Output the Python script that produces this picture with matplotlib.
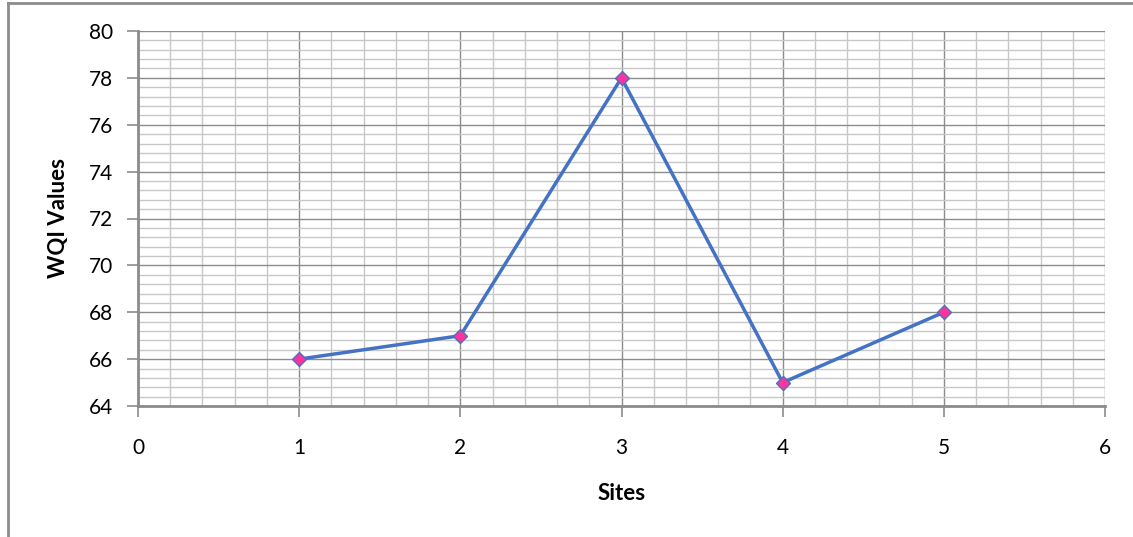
import numpy as np
import matplotlib
matplotlib.use("Agg")
import matplotlib.pyplot as plt
from matplotlib.lines import Line2D
from matplotlib.ticker import MultipleLocator

plt.rcParams['font.family'] = ['Lato', 'DejaVu Sans']

sites = [1, 2, 3, 4, 5]
wqi_values = [66, 67, 78, 65, 68]
x_ticks = [0, 1, 2, 3, 4, 5, 6]
y_ticks = [64, 66, 68, 70, 72, 74, 76, 78, 80]

W, H = 1133, 537
fig = plt.figure(figsize=(W / 100, H / 100), dpi=100)
ax = fig.add_axes([138 / W, 1 - 406 / H, (1105 - 138) / W, (406 - 31) / H])

ax.set_xlim(0, 6)
ax.set_ylim(64, 80)
ax.set_xticks(x_ticks)
ax.set_yticks(y_ticks)
ax.xaxis.set_minor_locator(MultipleLocator(0.2))
ax.yaxis.set_minor_locator(MultipleLocator(0.4))

ax.grid(which='minor', color='#c8c8c8', linewidth=1.0)
ax.grid(which='major', color='#8c8c8c', linewidth=1.0)
ax.set_axisbelow(True)

ax.tick_params(which='minor', length=0)
ax.tick_params(which='major', direction='out', length=8, width=1.2,
               color='#8c8c8c', labelsize=15, labelcolor='black')
ax.tick_params(axis='y', pad=10)
ax.tick_params(axis='x', pad=15)

for side in ['top', 'right']:
    ax.spines[side].set_visible(False)
for side in ['left', 'bottom']:
    ax.spines[side].set_color('#8c8c8c')
    ax.spines[side].set_linewidth(2.0)

ax.plot(sites, wqi_values, color='#4472C4', linewidth=2.5,
        marker='D', markersize=7, markerfacecolor='#FF3399',
        markeredgecolor='#4472C4', markeredgewidth=1.0, zorder=5)

ax.set_xlabel('Sites', fontsize=16, fontweight='bold', labelpad=18)
ax.set_ylabel('WQI Values', fontsize=16, fontweight='bold', labelpad=14)

# outer chart border (Excel style)
fig.add_artist(Line2D([8 / W, 8 / W], [0, 1 - 3 / H], color='#8c8c8c', linewidth=2))
fig.add_artist(Line2D([8 / W, 1], [1 - 3 / H, 1 - 3 / H], color='#8c8c8c', linewidth=2))

fig.savefig('out.png', dpi=100)
